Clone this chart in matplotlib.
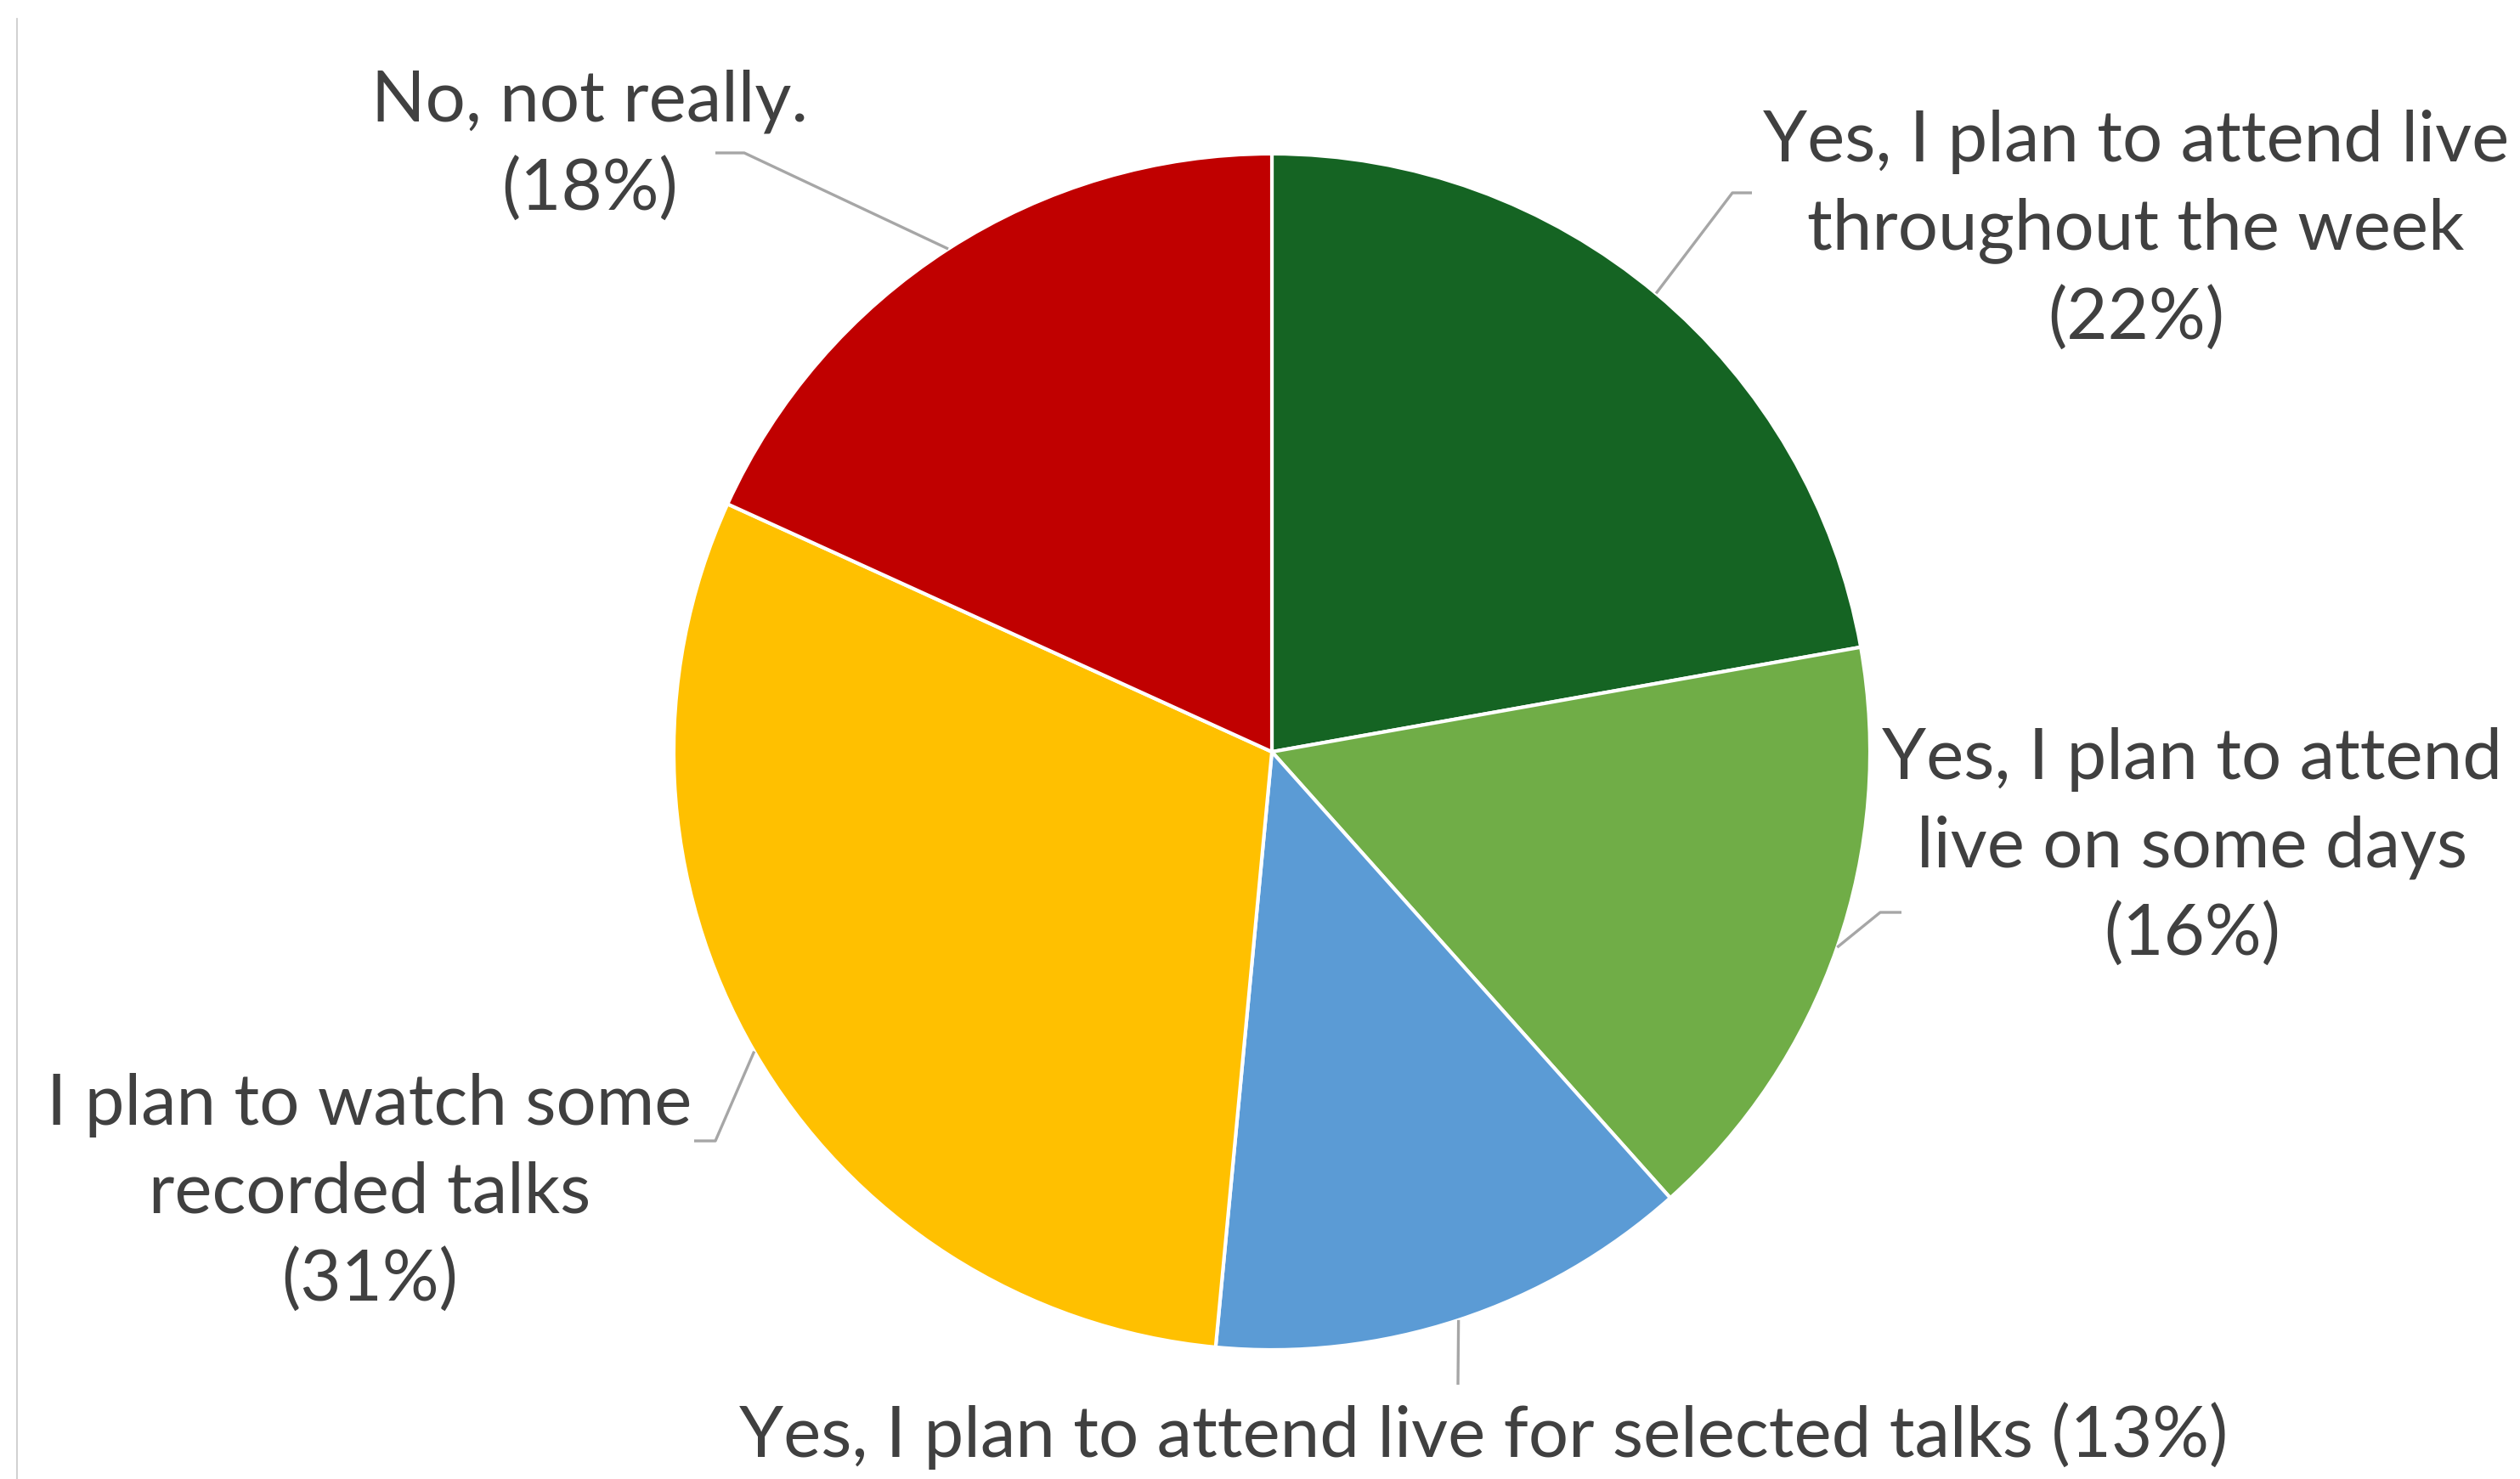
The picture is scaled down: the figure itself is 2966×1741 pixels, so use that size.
import numpy as np
import matplotlib.pyplot as plt
from matplotlib.lines import Line2D

plt.rcParams['font.family'] = ['Lato', 'DejaVu Sans']

labels = ["Yes, I plan to attend live\nthroughout the week",
          "Yes, I plan to attend\nlive on some days",
          "Yes, I plan to attend live for selected talks",
          "I plan to watch some\nrecorded talks",
          "No, not really."]
# slice sizes as measured from the wedge angles, and the printed percentages
shares = [22.2, 16.2, 13.1, 30.3, 18.2]
pct_text = ["22%", "16%", "13%", "31%", "18%"]
colors = ["#156423", "#70AD47", "#5B9BD5", "#FFC000", "#C00000"]

W, H = 2966, 1741
fig = plt.figure(figsize=(W / 100, H / 100), dpi=100)
ax = fig.add_axes([0, 0, 1, 1])

cx, cy, r = 1497, H - 885, 704
wedges, _ = ax.pie(shares, colors=colors, startangle=90, counterclock=False,
                   center=(cx, cy), radius=r,
                   wedgeprops=dict(edgecolor="white", linewidth=3))
ax.set_xlim(0, W)
ax.set_ylim(0, H)
ax.set_aspect("equal")
ax.axis("off")

# label layout: text centre, elbow point, end of horizontal tick (pixels, y down)
layout = [
    dict(text=(2514, 272), elbow=(2039, 227), end=(2062, 227), single=False),
    dict(text=(2580, 998), elbow=(2213, 1074), end=(2238, 1074), single=False),
    dict(text=(1746, 1690), elbow=(1716, 1630), end=(1716, 1630), single=True),
    dict(text=(435, 1405), elbow=(842, 1343), end=(817, 1343), single=False),
    dict(text=(694, 172), elbow=(876, 180), end=(842, 180), single=False),
]

for w, lab, pct, lo in zip(wedges, labels, pct_text, layout):
    mid = np.deg2rad((w.theta1 + w.theta2) / 2)
    px, py = cx + r * np.cos(mid), cy + r * np.sin(mid)
    ex, ey = lo["elbow"][0], H - lo["elbow"][1]
    tx, ty = lo["end"][0], H - lo["end"][1]
    ax.plot([px, ex, tx], [py, ey, ty], color="#A6A6A6", lw=2.4, solid_capstyle="butt")
    sep = " " if lo["single"] else "\n"
    ax.text(lo["text"][0], H - lo["text"][1], f"{lab}{sep}({pct})",
            ha="center", va="center", ma="center", fontsize=60,
            color="#404040", linespacing=1.45)

fig.add_artist(Line2D([20 / W, 20 / W], [0, 1 - 22 / H], color="#C8C8C8", lw=1.2))

fig.savefig("out.png", dpi=100)
